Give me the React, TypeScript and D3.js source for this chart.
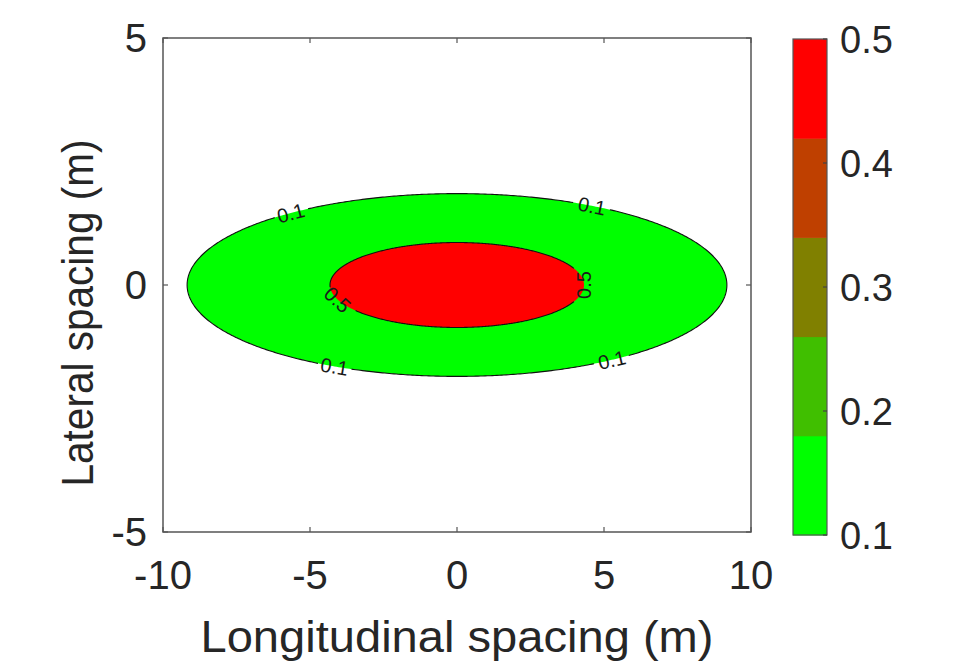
import React from 'react';
import * as d3 from 'd3';

// axis ticks
const xTicks = [-10, -5, 0, 5, 10];
const yTicks = [-5, 0, 5];
const barTicks = [0.1, 0.2, 0.3, 0.4, 0.5];
const colormap = ['#00ff00', '#40bf00', '#808000', '#bf4000', '#ff0000'];

// contour levels, read as ellipses (m)
const levels = [0.1, 0.5];
const halfLengths = [9.18, 4.32];
const halfWidths = [1.85, 0.86];

// contour labels: level and position angle on the ellipse (deg)
const labelLevels = [0.1, 0.1, 0.1, 0.1, 0.5, 0.5];
const labelAngles = [128, 60, 243, 305, 200, 0];

const W = 954;
const H = 661;
const FONT = '"Liberation Sans", Arial, Helvetica, sans-serif';
const INK = '#262626';

export default function App() {
  const x = d3.scaleLinear().domain([-10, 10]).range([163, 751]);
  const y = d3.scaleLinear().domain([-5, 5]).range([532, 38]);
  const cb = d3.scaleLinear().domain([0.1, 0.5]).range([535, 39]);
  const color = d3.scaleQuantize<string>().domain([0.1, 0.5]).range(colormap);
  const kx = x(1) - x(0);
  const ky = y(0) - y(1);

  const ellipse = (i: number, t: number) => [halfLengths[i] * Math.cos(t), halfWidths[i] * Math.sin(t)];
  const tangent = (i: number, t: number) => {
    const dx = -halfLengths[i] * Math.sin(t) * kx;
    const dy = -halfWidths[i] * Math.cos(t) * ky;
    return [dx, dy];
  };

  const ts = d3.range(0, 721).map((k) => (k / 720) * Math.PI * 2);
  const fillLine = d3.line<number[]>().x((p) => x(p[0])).y((p) => y(p[1])).curve(d3.curveLinearClosed);

  const labels = labelLevels.map((lv, j) => {
    const i = levels.indexOf(lv);
    const t = (labelAngles[j] * Math.PI) / 180;
    const [px, py] = ellipse(i, t);
    const [dx, dy] = tangent(i, t);
    let ang = (Math.atan2(dy, dx) * 180) / Math.PI;
    if (ang >= 90) ang -= 180;
    if (ang < -90) ang += 180;
    const gap = 17 / Math.hypot(dx, dy);
    return { lv, i, t, gap, cx: x(px), cy: y(py), ang };
  });

  const angDist = (a: number, b: number) => {
    const d = Math.abs(a - b) % (Math.PI * 2);
    return d > Math.PI ? Math.PI * 2 - d : d;
  };

  const strokeLine = (i: number) =>
    d3
      .line<number>()
      .defined((t) => !labels.some((l) => l.i === i && angDist(t, l.t) < l.gap))
      .x((t) => x(ellipse(i, t)[0]))
      .y((t) => y(ellipse(i, t)[1]))(ts);

  const bandH = (cb(0.1) - cb(0.5)) / colormap.length;

  return (
    <svg width={W} height={H} style={{ position: 'absolute', left: 0, top: 0, background: '#fff' }} fontFamily={FONT}>
      <rect x={0} y={0} width={W} height={H} fill="#fff" />
      {/* filled contours */}
      {levels.map((lv, i) => (
        <path key={'f' + lv} d={fillLine(ts.slice(0, 720).map((t) => ellipse(i, t))) || ''} fill={color(lv)} stroke="none" />
      ))}
      {levels.map((lv, i) => (
        <path key={'c' + lv} d={strokeLine(i) || ''} fill="none" stroke="#111" strokeWidth={1.1} />
      ))}
      {labels.map((l, j) => (
        <text
          key={'l' + j}
          transform={`translate(${l.cx},${l.cy}) rotate(${l.ang})`}
          textAnchor="middle"
          dy="0.36em"
          fontSize={20}
          fill="#1a1a1a"
        >
          {l.lv}
        </text>
      ))}

      {/* axes box */}
      <rect x={x(-10)} y={y(5)} width={x(10) - x(-10)} height={y(-5) - y(5)} fill="none" stroke="#555" strokeWidth={1.5} />
      {xTicks.map((v) => (
        <g key={'xt' + v}>
          <line x1={x(v)} x2={x(v)} y1={y(-5)} y2={y(-5) - 5} stroke="#555" strokeWidth={1.2} />
          <line x1={x(v)} x2={x(v)} y1={y(5)} y2={y(5) + 5} stroke="#555" strokeWidth={1.2} />
          <text x={x(v)} y={589} textAnchor="middle" fontSize={40} fill={INK}>
            {v}
          </text>
        </g>
      ))}
      {yTicks.map((v) => (
        <g key={'yt' + v}>
          <line x1={x(-10)} x2={x(-10) + 5} y1={y(v)} y2={y(v)} stroke="#555" strokeWidth={1.2} />
          <line x1={x(10)} x2={x(10) - 5} y1={y(v)} y2={y(v)} stroke="#555" strokeWidth={1.2} />
          <text x={147} y={y(v)} dy="0.36em" textAnchor="end" fontSize={40} fill={INK}>
            {v}
          </text>
        </g>
      ))}
      <text
        x={(x(-10) + x(10)) / 2}
        y={652}
        textAnchor="middle"
        fontSize={45}
        textLength={513}
        lengthAdjust="spacingAndGlyphs"
        fill={INK}
      >
        Longitudinal spacing (m)
      </text>
      <text
        transform={`translate(93,313) rotate(-90) scale(1,1.12)`}
        textAnchor="middle"
        fontSize={40}
        textLength={347}
        lengthAdjust="spacingAndGlyphs"
        fill={INK}
      >
        Lateral spacing (m)
      </text>

      {/* colorbar */}
      {colormap.map((c, k) => (
        <rect key={'cb' + k} x={793} y={cb(0.5) + (colormap.length - 1 - k) * bandH} width={34} height={bandH + 0.5} fill={c} />
      ))}
      <rect x={793} y={cb(0.5)} width={34} height={cb(0.1) - cb(0.5)} fill="none" stroke="#555" strokeWidth={1.2} />
      {barTicks.map((v) => (
        <g key={'bt' + v}>
          <line x1={827} x2={823} y1={cb(v)} y2={cb(v)} stroke="#444" strokeWidth={1.2} />
          <text x={840} y={cb(v)} dy="0.36em" fontSize={38} fill={INK}>
            {v}
          </text>
        </g>
      ))}
    </svg>
  );
}
